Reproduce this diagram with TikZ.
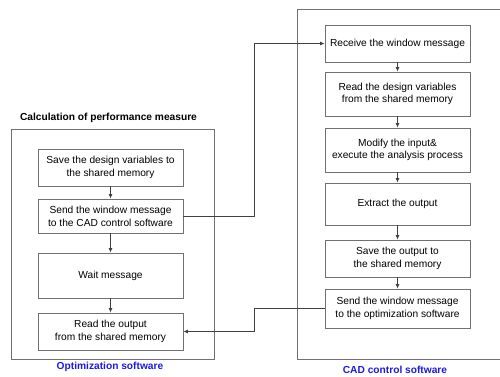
\documentclass[tikz,border=0pt]{standalone}
\usepackage{fontspec}
\setmainfont{Liberation Sans}
\usetikzlibrary{arrows.meta}
\definecolor{lc}{HTML}{404040}
\definecolor{bc}{HTML}{707070}
\definecolor{lblue}{HTML}{1A1AE6}
\begin{document}
\begin{tikzpicture}[x=1pt,y=-1pt,
  stepbox/.style={draw=bc,line width=0.9pt,minimum width=145pt,align=center,inner sep=0pt,font=\fontsize{10.2}{12.7}\selectfont},
  frame/.style={draw=bc,line width=0.9pt},
  conn/.style={draw=lc,line width=0.75pt,-{Latex[length=4.5pt,width=4pt]}},
  title/.style={font=\bfseries\fontsize{10.2}{11}\selectfont},
  sub/.style={font=\bfseries\fontsize{10.2}{11}\selectfont,text=lblue}]
\useasboundingbox (0,0) rectangle (500,376);
% frames
\draw[frame] (11,129) rectangle (214,359);
\draw[frame] (510,9) -- (297,9) -- (297,359) -- (510,359);
\node[title] (t1) at (108.5,118) {Calculation of performance measure};
\node[sub] (s1) at (110,367) {Optimization software};
\node[sub] (s2) at (395,370) {CAD control software};
% left boxes
\node[stepbox,minimum height=37pt] (L1) at (110.5,167.5) {Save the design variables to\\the shared memory};
\node[stepbox,minimum height=34pt] (L2) at (110.5,216) {Send the window message\\to the CAD control software};
\node[stepbox,minimum height=45pt] (L3) at (110.5,275.5) {Wait message};
\node[stepbox,minimum height=37pt] (L4) at (110.5,331.5) {Read the output\\from the shared memory};
% right boxes
\node[stepbox,minimum height=37pt] (R1) at (397.5,43.5) {Receive the window message};
\node[stepbox,minimum height=44pt] (R2) at (397.5,94) {Read the design variables\\from the shared memory};
\node[stepbox,minimum height=44pt] (R3) at (397.5,150) {Modify the input\&\\execute the analysis process};
\node[stepbox,minimum height=42pt] (R4) at (397.5,204) {Extract the output};
\node[stepbox,minimum height=37pt] (R5) at (397.5,258.5) {Save the output to\\the shared memory};
\node[stepbox,minimum height=39pt] (R6) at (397.5,308.5) {Send the window message\\to the optimization software};
% vertical arrows
\draw[conn] (L1) -- (L2);
\draw[conn] (L2) -- (L3);
\draw[conn] (L3) -- (L4);
\draw[conn] (R1) -- (R2);
\draw[conn] (R2) -- (R3);
\draw[conn] (R3) -- (R4);
\draw[conn] (R4) -- (R5);
\draw[conn] (R5) -- (R6);
% cross connectors
\draw[conn] (L2.east) -- (254,216) -- (254,43.5) -- (R1.west);
\draw[conn] (R6.west) -- (254,308.5) -- (254,331.5) -- (L4.east);
\end{tikzpicture}
\end{document}
